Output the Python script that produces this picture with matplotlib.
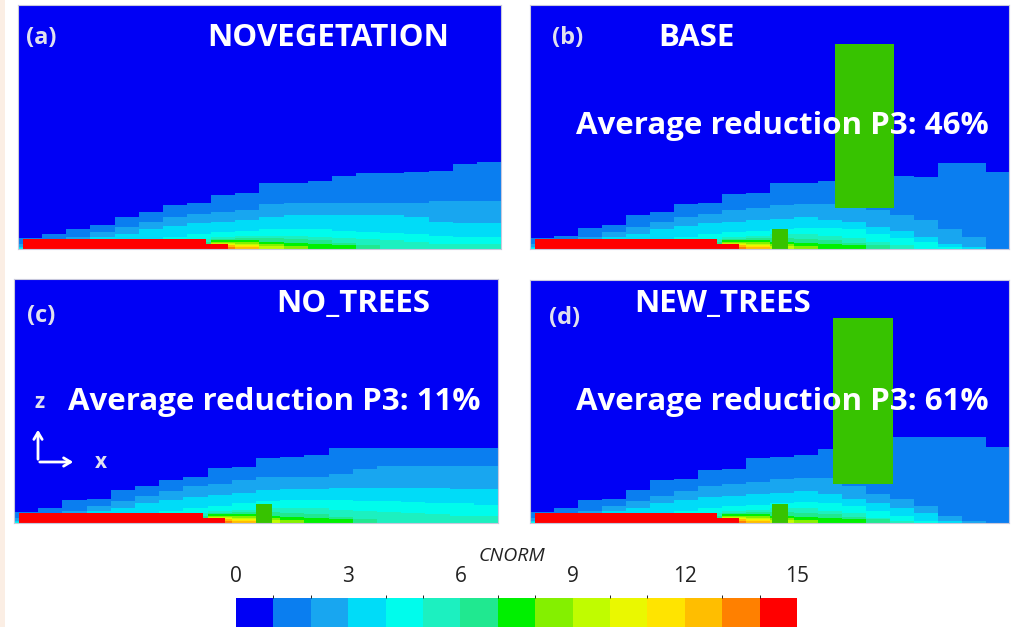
import numpy as np
import matplotlib
matplotlib.use("Agg")
import matplotlib.pyplot as plt
from matplotlib.colors import ListedColormap, BoundaryNorm
from matplotlib.patches import Rectangle, FancyArrowPatch

W, H = 1014, 627

# CNORM colour classes 0..15 (15 bins of width 1)
cnorm_colors = ['#0000f5', '#0a7ef0', '#18a6f0', '#00dcf8', '#00fcec',
                '#1cf0c0', '#20e890', '#00f000', '#84f000', '#c0fc00',
                '#eaf800', '#ffe400', '#ffbe00', '#ff8000', '#ff0000']
cnorm_ticks = [0, 3, 6, 9, 12, 15]

# plume band tops (z / domain height) for 20 x-columns, levels 1..5
noveg_bands = [
    [0.045, 0.06, 0.08, 0.10, 0.13, 0.15, 0.18, 0.19, 0.22, 0.23, 0.27, 0.27, 0.28, 0.30, 0.31, 0.31, 0.315, 0.32, 0.35, 0.355],
    [0.02, 0.03, 0.05, 0.07, 0.09, 0.11, 0.13, 0.145, 0.15, 0.16, 0.185, 0.19, 0.19, 0.19, 0.19, 0.19, 0.19, 0.195, 0.195, 0.195],
    [0.01, 0.02, 0.03, 0.05, 0.06, 0.08, 0.095, 0.105, 0.11, 0.12, 0.13, 0.14, 0.14, 0.14, 0.14, 0.14, 0.13, 0.11, 0.105, 0.105],
    [0.005, 0.01, 0.015, 0.02, 0.03, 0.04, 0.05, 0.06, 0.07, 0.075, 0.08, 0.08, 0.08, 0.075, 0.07, 0.065, 0.06, 0.055, 0.05, 0.05],
    [0.0, 0.0, 0.005, 0.01, 0.015, 0.02, 0.03, 0.04, 0.05, 0.055, 0.055, 0.055, 0.05, 0.045, 0.04, 0.035, 0.03, 0.02, 0.02, 0.02],
]
base_bands = [
    [0.045, 0.055, 0.085, 0.10, 0.14, 0.15, 0.186, 0.19, 0.224, 0.23, 0.269, 0.27, 0.28, 0.303, 0.303, 0.30, 0.296, 0.351, 0.351, 0.317],
    [0.02, 0.03, 0.05, 0.07, 0.09, 0.11, 0.13, 0.145, 0.16, 0.17, 0.18, 0.185, 0.185, 0.17, 0.16, 0.14, 0.12, 0.08, 0.05, 0.0],
    [0.01, 0.02, 0.03, 0.05, 0.06, 0.08, 0.095, 0.105, 0.11, 0.12, 0.125, 0.13, 0.12, 0.11, 0.09, 0.075, 0.05, 0.02, 0.01, 0.0],
    [0.005, 0.01, 0.015, 0.02, 0.03, 0.04, 0.05, 0.06, 0.07, 0.075, 0.08, 0.085, 0.085, 0.08, 0.06, 0.045, 0.03, 0.01, 0.0, 0.0],
    [0.0, 0.0, 0.005, 0.01, 0.015, 0.02, 0.03, 0.04, 0.05, 0.055, 0.06, 0.06, 0.055, 0.045, 0.03, 0.015, 0.0, 0.0, 0.0, 0.0],
]
notrees_bands = [
    [0.045, 0.06, 0.094, 0.10, 0.135, 0.15, 0.176, 0.19, 0.224, 0.23, 0.265, 0.27, 0.28, 0.306, 0.306, 0.306, 0.306, 0.306, 0.306, 0.306],
    [0.02, 0.03, 0.05, 0.07, 0.09, 0.11, 0.13, 0.15, 0.16, 0.175, 0.19, 0.19, 0.19, 0.20, 0.22, 0.235, 0.235, 0.235, 0.235, 0.235],
    [0.01, 0.02, 0.03, 0.05, 0.06, 0.08, 0.095, 0.105, 0.115, 0.125, 0.135, 0.14, 0.14, 0.145, 0.145, 0.145, 0.145, 0.145, 0.14, 0.14],
    [0.005, 0.01, 0.015, 0.02, 0.03, 0.04, 0.05, 0.06, 0.07, 0.08, 0.09, 0.095, 0.095, 0.095, 0.09, 0.09, 0.085, 0.08, 0.08, 0.075],
    [0.0, 0.0, 0.005, 0.01, 0.015, 0.02, 0.03, 0.04, 0.05, 0.055, 0.06, 0.06, 0.06, 0.055, 0.05, 0.045, 0.04, 0.035, 0.03, 0.03],
]
newtrees_bands = [
    [0.045, 0.06, 0.094, 0.10, 0.135, 0.176, 0.18, 0.217, 0.22, 0.265, 0.27, 0.28, 0.302, 0.302, 0.302, 0.351, 0.351, 0.351, 0.351, 0.313],
    [0.02, 0.03, 0.05, 0.07, 0.09, 0.11, 0.13, 0.15, 0.16, 0.17, 0.18, 0.185, 0.185, 0.15, 0.12, 0.10, 0.07, 0.03, 0.01, 0.0],
    [0.01, 0.02, 0.03, 0.05, 0.06, 0.08, 0.095, 0.105, 0.11, 0.12, 0.125, 0.13, 0.12, 0.10, 0.08, 0.06, 0.04, 0.01, 0.0, 0.0],
    [0.005, 0.01, 0.015, 0.02, 0.03, 0.04, 0.05, 0.06, 0.07, 0.075, 0.08, 0.085, 0.08, 0.07, 0.05, 0.03, 0.01, 0.0, 0.0, 0.0],
    [0.0, 0.0, 0.005, 0.01, 0.015, 0.02, 0.03, 0.04, 0.05, 0.055, 0.06, 0.06, 0.05, 0.04, 0.02, 0.01, 0.0, 0.0, 0.0, 0.0],
]
# near-source hot core, levels 6..13 (same in every case)
core_bands = [
    [0, 0, 0, 0, 0, 0, 0.02, 0.03, 0.04, 0.045, 0.045, 0.04, 0.035, 0.025, 0.015, 0, 0, 0, 0, 0],
    [0, 0, 0, 0, 0, 0, 0, 0, 0.035, 0.035, 0.03, 0.025, 0.02, 0.015, 0, 0, 0, 0, 0, 0],
    [0, 0, 0, 0, 0, 0, 0, 0, 0.03, 0.03, 0.02, 0.012, 0, 0, 0, 0, 0, 0, 0, 0],
    [0, 0, 0, 0, 0, 0, 0, 0, 0.025, 0.022, 0.012, 0, 0, 0, 0, 0, 0, 0, 0, 0],
    [0, 0, 0, 0, 0, 0, 0, 0, 0.02, 0.018, 0, 0, 0, 0, 0, 0, 0, 0, 0, 0],
    [0, 0, 0, 0, 0, 0, 0, 0, 0.018, 0.012, 0, 0, 0, 0, 0, 0, 0, 0, 0, 0],
    [0, 0, 0, 0, 0, 0, 0, 0, 0.015, 0.008, 0, 0, 0, 0, 0, 0, 0, 0, 0, 0],
    [0, 0, 0, 0, 0, 0, 0, 0, 0.01, 0, 0, 0, 0, 0, 0, 0, 0, 0, 0, 0],
]
source_value = 14

# vegetation blocks (x, z, width, height) in domain fractions
base_trees = [(0.636, 0.168, 0.124, 0.672), (0.505, 0.0, 0.033, 0.082)]
notrees_trees = [(0.500, 0.0, 0.033, 0.078)]
newtrees_trees = [(0.633, 0.160, 0.125, 0.684), (0.505, 0.0, 0.033, 0.078)]
tree_color = '#37c300'

cmap = ListedColormap(cnorm_colors)
norm = BoundaryNorm(np.arange(16), cmap.N)


def build_field(bands, nx=480, nz=244):
    x = (np.arange(nx) + 0.5) / nx
    z = (np.arange(nz) + 0.5) / nz
    col = np.minimum((x * len(bands[0])).astype(int), len(bands[0]) - 1)
    val = np.zeros((nz, nx))
    for top in bands + core_bands:
        t = np.asarray(top)[col]
        val += z[:, None] < t[None, :]
    X, Z = np.meshgrid(x, z)
    val[(X >= 0.01) & (X < 0.39) & (Z < 0.042)] = source_value
    val[(X >= 0.39) & (X < 0.435) & (Z < 0.02)] = source_value
    return val + 0.5


def px_axes(fig, left, top, right, bottom):
    return fig.add_axes([left / W, 1 - bottom / H, (right - left) / W, (bottom - top) / H])


def ftext(fig, x, y, s, **kw):
    fig.text(x / W, 1 - y / H, s, ha='center', va='center', **kw)


fig = plt.figure(figsize=(W / 100, H / 100), dpi=100)
fig.patch.set_facecolor('white')
fig.add_artist(Rectangle((0, 0), 5 / W, 1, transform=fig.transFigure,
                         facecolor='#fbeee4', edgecolor='none'))

panels = [
    ((18, 5, 501, 249), noveg_bands, []),
    ((530, 5, 1009, 249), base_bands, base_trees),
    ((14, 279, 498, 523), notrees_bands, notrees_trees),
    ((530, 280, 1009, 523), newtrees_bands, newtrees_trees),
]
for box, bands, trees in panels:
    ax = px_axes(fig, *box)
    im = ax.imshow(build_field(bands), extent=[0, 1, 0, 1], origin='lower',
                   cmap=cmap, norm=norm, aspect='auto', interpolation='nearest')
    for (tx, tz, tw, th) in trees:
        ax.add_patch(Rectangle((tx, tz), tw, th, facecolor=tree_color, edgecolor='none'))
    ax.set_xlim(0, 1)
    ax.set_ylim(0, 1)
    ax.set_xticks([])
    ax.set_yticks([])
    for sp in ax.spines.values():
        sp.set_color('#c8c8dc')
        sp.set_linewidth(0.8)

title_kw = dict(color='white', fontsize=22.5, fontweight='bold', family='Open Sans')
label_kw = dict(color='#e0e0ee', fontsize=17, fontweight='bold', family='Open Sans')
ftext(fig, 41, 38, '(a)', **label_kw)
ftext(fig, 568, 38, '(b)', **label_kw)
ftext(fig, 41, 316, '(c)', **label_kw)
ftext(fig, 565, 318, '(d)', **label_kw)
ftext(fig, 328, 38, 'NOVEGETATION', **title_kw)
ftext(fig, 696, 38, 'BASE', **title_kw)
ftext(fig, 353, 304, 'NO_TREES', **title_kw)
ftext(fig, 723, 304, 'NEW_TREES', **title_kw)
ftext(fig, 782, 126, 'Average reduction P3: 46%', **title_kw)
ftext(fig, 274, 402, 'Average reduction P3: 11%', **title_kw)
ftext(fig, 782, 402, 'Average reduction P3: 61%', **title_kw)

# axis triad in panel (c)
ftext(fig, 40, 402, 'z', color='#e0e0ee', fontsize=15, fontweight='bold', family='Open Sans')
ftext(fig, 101, 463, 'x', color='#e0e0ee', fontsize=15, fontweight='bold', family='Open Sans')
fig.add_artist(FancyArrowPatch(
    (38 / W, 1 - 462 / H), (38 / W, 1 - 427 / H), transform=fig.transFigure,
    arrowstyle='->,head_length=5,head_width=3', color='white', lw=2))
fig.add_artist(FancyArrowPatch(
    (37 / W, 1 - 462 / H), (76 / W, 1 - 462 / H), transform=fig.transFigure,
    arrowstyle='->,head_length=5,head_width=3', color='white', lw=2))

# colour bar
cax = px_axes(fig, 236, 598, 797, 627)
cb = fig.colorbar(im, cax=cax, orientation='horizontal', ticks=cnorm_ticks)
cb.outline.set_visible(False)
cax.xaxis.set_ticks_position('top')
cax.tick_params(length=0, pad=8, labelsize=15, labelcolor='#222222')
for lab in cax.get_xticklabels():
    lab.set_family('Open Sans')
ftext(fig, 512, 556, 'CNORM', color='#222222', fontsize=14, style='italic', family='Open Sans')

fig.savefig('out.png', dpi=100)
